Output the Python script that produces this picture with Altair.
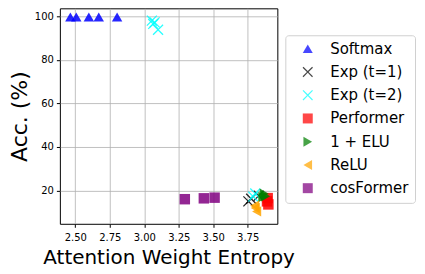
import math
import altair as alt
import pandas as pd

methods = ["Softmax", "Exp (t=1)", "Exp (t=2)", "Performer", "1 + ELU", "ReLU", "cosFormer"]
colors = ["#0000ff", "#000000", "#00ffff", "#ff0000", "#008000", "#ffa500", "#800080"]

softmax_x = [2.464, 2.507, 2.598, 2.670, 2.803]
softmax_y = [99.7, 99.7, 99.7, 99.7, 99.7]
exp1_x = [3.755, 3.775, 3.830]
exp1_y = [15.0, 16.2, 17.6]
exp2_x = [3.055, 3.065, 3.075, 3.100, 3.805, 3.790]
exp2_y = [98.0, 96.5, 97.2, 93.8, 18.6, 17.2]
perf_x = [3.895, 3.900, 3.890]
perf_y = [16.5, 13.6, 15.0]
elu_x = [3.870, 3.880, 3.860]
elu_y = [18.5, 17.4, 17.0]
relu_x = [3.805, 3.815, 3.800]
relu_y = [12.0, 10.4, 13.0]
cos_x = [3.294, 3.432, 3.510]
cos_y = [16.0, 16.4, 16.7]

xs = [softmax_x, exp1_x, exp2_x, perf_x, elu_x, relu_x, cos_x]
ys = [softmax_y, exp1_y, exp2_y, perf_y, elu_y, relu_y, cos_y]

rows = []
for m, xx, yy in zip(methods, xs, ys):
    for a, b in zip(xx, yy):
        rows.append({"method": m, "entropy": a, "acc": b})
df = pd.DataFrame(rows)

# thin "x" glyph as a filled polygon
a, L = 0.12, 1.35
plus = [(a, L), (a, a), (L, a), (L, -a), (a, -a), (a, -L), (-a, -L), (-a, -a), (-L, -a), (-L, a), (-a, a), (-a, L)]
rot = [((x - y) / math.sqrt(2), (x + y) / math.sqrt(2)) for x, y in plus]
xpath = "M" + "L".join(f"{x:.3f},{y:.3f}" for x, y in rot) + "Z"

shapes = ["triangle-up", xpath, xpath, "square", "triangle-right", "triangle-left", "square"]

font = "DejaVu Sans"

chart = alt.Chart(df).mark_point(filled=True, opacity=0.85, size=110).encode(
    x=alt.X("entropy:Q", scale=alt.Scale(domain=[2.388, 3.965], nice=False, zero=False),
            axis=alt.Axis(values=[2.5, 2.75, 3.0, 3.25, 3.5, 3.75], format=".2f",
                          title="Attention Weight Entropy", labelPadding=5, titlePadding=5)),
    y=alt.Y("acc:Q", scale=alt.Scale(domain=[4.7, 103.67], nice=False, zero=False),
            axis=alt.Axis(values=[20, 40, 60, 80, 100], title="Acc. (%)",
                          titleFontSize=22, titlePadding=3)),
    color=alt.Color("method:N", scale=alt.Scale(domain=methods, range=colors),
                    legend=alt.Legend(title=None, orient="none", legendX=226, legendY=27,
                                      strokeColor="#d0d0d0", padding=6, cornerRadius=3,
                                      labelFontSize=15, labelFont=font, rowPadding=7.3,
                                      symbolSize=100, symbolOpacity=0.8, labelOffset=15,
                                      symbolOffset=9, symbolStrokeWidth=0, offset=0,
                                      labelExpr="datum.label + '\u2002\u2002'")),
    shape=alt.Shape("method:N", scale=alt.Scale(domain=methods, range=shapes)),
).properties(
    width=218, height=216,
    autosize=alt.AutoSizeParams(type="none"),
    padding={"left": 52, "top": 0, "right": 140, "bottom": 48},
).configure_view(
    stroke="black", strokeWidth=1
).configure_axis(
    grid=True, gridColor="#b0b0b0", gridWidth=0.8, domain=False,
    tickColor="black", tickSize=3.5, labelFont=font, labelFontSize=10,
    labelColor="black", titleFont=font, titleFontSize=20, titleFontWeight="normal",
    titleColor="black", labelPadding=3,
)

chart.save("out.html", embed_options={"renderer": "svg", "actions": False})
